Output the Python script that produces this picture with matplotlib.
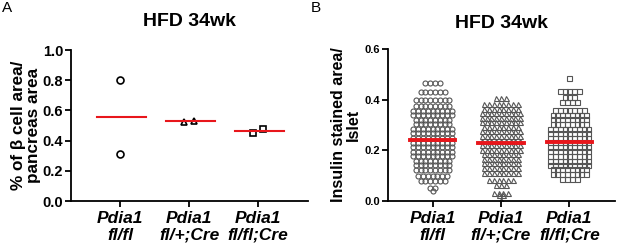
import numpy as np
import matplotlib.pyplot as plt

plt.rcParams['font.family'] = ['Liberation Sans', 'DejaVu Sans']

groups = ['Pdia1\nfl/fl', 'Pdia1\nfl/+;Cre', 'Pdia1\nfl/fl;Cre']
markers = ['o', '^', 's']

# Panel A: % beta cell area / pancreas area
a_values = [[0.80, 0.31], [0.525, 0.53], [0.45, 0.48]]
a_means = [0.555, 0.53, 0.465]

# Panel B: insulin stained area / islet, rows of the swarm (value, count)
b_levels = [
    [0.465, 0.43, 0.40, 0.375, 0.357, 0.339, 0.321, 0.303, 0.285, 0.267, 0.249, 0.231,
     0.213, 0.195, 0.177, 0.159, 0.141, 0.123, 0.10, 0.078, 0.05, 0.04],
    [0.405, 0.385, 0.365, 0.347, 0.329, 0.311, 0.293, 0.275, 0.257, 0.239, 0.221, 0.203,
     0.185, 0.167, 0.149, 0.131, 0.11, 0.085, 0.062, 0.03, 0.025, 0.006],
    [0.487, 0.435, 0.41, 0.39, 0.36, 0.34, 0.322, 0.304, 0.286, 0.268, 0.25, 0.232, 0.214,
     0.196, 0.178, 0.16, 0.142, 0.125, 0.108, 0.088],
]
b_counts = [
    [4, 6, 8, 8, 9, 9, 8, 8, 9, 9, 9, 9, 9, 9, 9, 8, 8, 8, 7, 6, 2, 1],
    [3, 8, 8, 9, 9, 9, 8, 9, 9, 9, 9, 9, 8, 8, 8, 8, 8, 6, 3, 4, 2, 1],
    [1, 5, 3, 4, 7, 8, 8, 8, 9, 9, 9, 9, 9, 9, 9, 9, 9, 8, 8, 4],
]
b_means = [0.24, 0.23, 0.232]

fig = plt.figure(figsize=(6.17, 2.44), dpi=100)
axA = fig.add_axes([0.115, 0.176, 0.384, 0.619])
axB = fig.add_axes([0.629, 0.176, 0.368, 0.623])


def style_axis(ax, fs, pad):
    for s in ['top', 'right']:
        ax.spines[s].set_visible(False)
    for s in ['left', 'bottom']:
        ax.spines[s].set_linewidth(1.3)
    ax.tick_params(width=1.3, length=4, labelsize=fs)
    ax.tick_params(axis='y', pad=pad)
    ax.tick_params(axis='x', labelsize=12.5, pad=3)
    for lab in ax.get_yticklabels():
        lab.set_fontweight('bold')
    for lab in ax.get_xticklabels():
        lab.set_fontweight('bold')
        lab.set_fontstyle('italic')
        lab.set_linespacing(1.15)


# Panel A
for i, vals in enumerate(a_values):
    n = len(vals)
    offs = (np.arange(n) - (n - 1) / 2) * 0.145 if i > 0 else np.zeros(n)
    axA.plot(i + offs, vals, linestyle='none', marker=markers[i], ms=5,
             mfc='none', mec='black', mew=1.2)
    axA.plot([i - 0.33, i + 0.37], [a_means[i]] * 2, color='#e8161b', lw=1.5)
axA.set_xlim(-0.71, 2.72)
axA.set_ylim(0, 1.0)
axA.set_yticks(np.arange(0, 1.01, 0.2))
axA.set_yticklabels([f'{v:.1f}' for v in np.arange(0, 1.01, 0.2)])
axA.set_xticks(range(3))
axA.set_xticklabels(groups)
axA.set_ylabel('% of β cell area/\npancreas area', fontsize=12.3, fontweight='bold',
               labelpad=1, linespacing=1.0)
axA.set_title('HFD 34wk', fontsize=14, fontweight='bold', pad=17)
style_axis(axA, 10.5, 1.5)

# Panel B
step = 0.07
for i in range(3):
    xs, ys = [], []
    for lev, cnt in zip(b_levels[i], b_counts[i]):
        offs = (np.arange(cnt) - (cnt - 1) / 2) * step
        xs.extend(i + offs)
        ys.extend([lev] * cnt)
    axB.plot(xs, ys, linestyle='none', marker=markers[i], ms=3.6,
             mfc='none', mec='#555555', mew=0.8)
    axB.plot([i - 0.33, i + 0.33], [b_means[i]] * 2, color='#e8161b', lw=2.8, zorder=5)
axB.set_xlim(-0.65, 2.67)
axB.set_ylim(0, 0.6)
axB.set_yticks([0, 0.2, 0.4, 0.6])
axB.set_yticklabels(['0.0', '0.2', '0.4', '0.6'])
axB.set_xticks(range(3))
axB.set_xticklabels(groups)
axB.set_ylabel('Insulin stained area/\nIslet', fontsize=11.5, fontweight='bold',
               labelpad=3, linespacing=0.95)
axB.set_title('HFD 34wk', fontsize=14, fontweight='bold', pad=15)
style_axis(axB, 8, 1.5)

fig.text(0.003, 0.995, 'A', fontsize=11, va='top', ha='left')
fig.text(0.503, 0.995, 'B', fontsize=11, va='top', ha='left')

fig.savefig('out.png', dpi=100)
